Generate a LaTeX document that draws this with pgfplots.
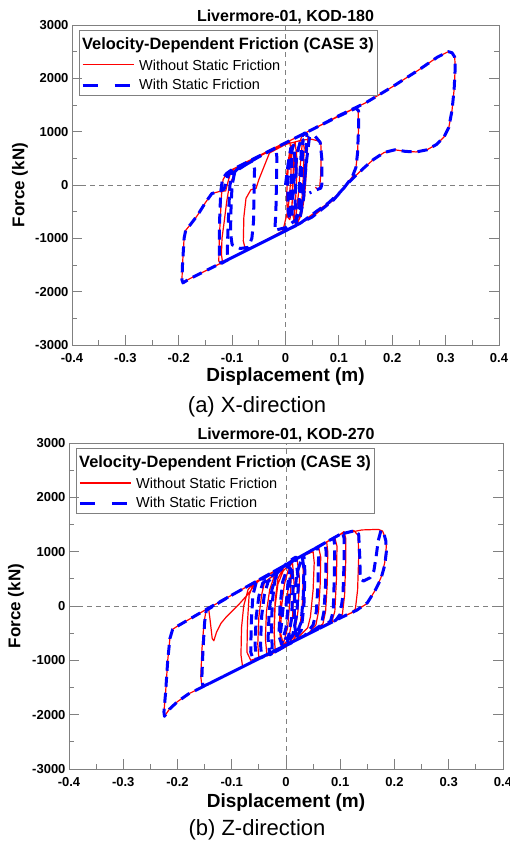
\documentclass[border=0pt]{standalone}
\usepackage{fontspec}
\setmainfont{Liberation Sans}
\usepackage{pgfplots}
\pgfplotsset{compat=1.18}
\definecolor{pRed}{RGB}{255,0,0}
\definecolor{pBlue}{RGB}{0,0,255}
\pgfplotsset{
  hyst/.style={
    scale only axis,
    xmin=-0.4, xmax=0.4, ymin=-3000, ymax=3000,
    xtick={-0.4,-0.3,-0.2,-0.1,0,0.1,0.2,0.3,0.4},
    ytick={-3000,-2000,-1000,0,1000,2000,3000},
    minor x tick num=1, minor y tick num=1,
    xtick pos=left, ytick pos=both, yticklabel pos=left,
    tick align=inside,
    major tick length=10pt, minor tick length=5pt,
    axis line style={draw=gray, line width=0.8pt},
    every tick/.style={draw=gray, line width=0.8pt},
    tick label style={font=\fontsize{13}{13}\selectfont\bfseries},
    xticklabel style={yshift=-5pt},
    /pgf/number format/assume math mode=true,
    /pgf/number format/1000 sep={},
    scaled ticks=false,
    xlabel style={font=\fontsize{19}{19}\selectfont\bfseries},
    ylabel style={font=\fontsize{17}{17}\selectfont\bfseries},
    xlabel={Displacement (m)},
    ylabel={Force (kN)},
    title style={font=\fontsize{16}{16}\selectfont\bfseries, at={(0.5,1)}, anchor=south, yshift=-9pt},
    legend style={at={(axis description cs:0.016,0.985)}, anchor=north west,
      draw=gray, line width=0.8pt, fill=none, row sep=3pt,
      font=\fontsize{14.5}{16}\selectfont, cells={anchor=west}, inner sep=2pt},
  },
  redline/.style={color=pRed, line width=1.2pt, line join=round},
  blueline/.style={color=pBlue, line width=3pt, line join=round, dash pattern=on 10pt off 6pt},
}
\newcommand{\legtitle}{\hspace{-57pt}\rule{0pt}{15.5pt}\fontsize{16.4}{17}\selectfont\bfseries Velocity-Dependent Friction (CASE 3)}
\newcommand{\legone}{\rule{0pt}{12.5pt}Without Static Friction}
\newcommand{\legtwo}{\rule[-3.5pt]{0pt}{3.5pt}With Static Friction}
\newcommand{\legimages}{%
  \addlegendimage{empty legend}
  \addlegendentry{\legtitle}
  \addlegendimage{legend image code/.code={\node[inner sep=0pt, outer sep=0pt, anchor=west] at (0pt,0pt) {\textcolor{pRed}{\rule[-0.7pt]{51pt}{1.4pt}}}; \path (54pt,0pt);}}
  \addlegendentry{\legone}
  \addlegendimage{legend image code/.code={\draw[draw=pBlue, color=pBlue, line width=3pt, dash pattern=on 15pt off 17pt] (0pt,0pt) -- (48pt,0pt); \path (54pt,0pt);}}
  \addlegendentry{\legtwo}}
\begin{document}
\begin{tikzpicture}
\path[use as bounding box] (0,0) rectangle (510pt,844pt);
% ---------------- (a) ----------------
\begin{axis}[hyst, at={(72pt,499pt)}, anchor=south west, width=427pt, height=320pt,
  title={Livermore-01, KOD-180},
  xlabel style={at={(axis description cs:0.5,-0.1)}, anchor=center},
  ylabel style={at={(axis description cs:-0.122,0.5)}, anchor=center}]
\draw[gray, line width=0.7pt, dash pattern=on 5pt off 4pt] (axis cs:0,-3000) -- (axis cs:0,3000);
\draw[gray, line width=0.7pt, dash pattern=on 5pt off 4pt] (axis cs:-0.4,0) -- (axis cs:0.4,0);
\legimages
\addplot[redline, forget plot] coordinates {
(0,0) (0.004,350) (0.008,650) (0.012,750) (0.015,500) (0.014,0) (0.012,-450) (0.008,-650) (0.004,-600) (0.002,-200) (0.005,300) (0.01,600) (0.018,800) (0.022,450) (0.02,-100) (0.017,-500) (0.015,-700) (0.02,-550) (0.025,-100) (0.028,400) (0.032,850) (0.035,700) (0.033,100) (0.03,-400) (0.025,-650) (0.018,-720) (0.012,-500) (0.013,0) (0.018,500) (0.025,750) (0.03,900) (0.038,950) (0.042,900) (0.04,400) (0.036,-200) (0.03,-550)
(0.02,-760) (0,-860) (-0.05,-1110) (-0.1,-1360) (-0.122,-1480)
(-0.125,-1420) (-0.124,-1000) (-0.122,-600) (-0.12,-200) (-0.117,100) (-0.11,220) (-0.1,290)
(-0.05,530) (0,790) (0.05,1040) (0.1,1290) (0.13,1440)
(0.136,1400) (0.137,1100) (0.135,600) (0.132,330) (0.125,150) (0.11,-50) (0.09,-280)
(0.05,-600) (0,-860) (-0.05,-1110) (-0.1,-1360) (-0.15,-1610) (-0.18,-1760) (-0.192,-1830)
(-0.194,-1780) (-0.193,-1500) (-0.19,-1000) (-0.187,-850) (-0.178,-740) (-0.165,-570) (-0.15,-330) (-0.138,-160) (-0.125,-125) (-0.112,-110) (-0.108,50) (-0.103,220) (-0.095,310)
(-0.05,540) (0,790) (0.05,1040) (0.1,1300) (0.15,1540) (0.2,1840) (0.25,2160) (0.285,2400) (0.305,2500) (0.312,2480)
(0.317,2400) (0.318,2200) (0.316,1800) (0.312,1400) (0.306,1080) (0.297,900) (0.283,760) (0.265,660) (0.245,620) (0.225,630) (0.205,660) (0.185,610) (0.165,480) (0.148,330) (0.133,190) (0.118,40) (0.1,-160) (0.08,-340) (0.06,-480)
(0.03,-700) (0,-860) (-0.05,-1110) (-0.1,-1360) (-0.118,-1450)
(-0.12,-1300) (-0.119,-1000) (-0.115,-700) (-0.11,-300) (-0.105,0) (-0.098,150) (-0.09,320) (-0.08,400)
(-0.04,600) (-0.01,750) (0.008,810)
(0.011,600) (0.01,100) (0.005,-450) (-0.005,-860)
(-0.04,-1050) (-0.075,-1220)
(-0.079,-1050) (-0.078,-600) (-0.074,-250) (-0.065,-90) (-0.055,-60) (-0.05,100) (-0.04,350) (-0.03,600)
(0,760) (0.03,840) (0.048,860) (0.06,830) (0.066,800)
(0.067,600) (0.066,200) (0.064,-60) (0.06,-80) (0.056,-40)
};
\addplot[blueline, forget plot] coordinates {
(0,0) (0.005,400) (0.01,700) (0.012,300) (0.01,-300) (0.008,-650) (0.005,-500) (0.004,0) (0.008,500) (0.015,750) (0.02,300) (0.018,-300) (0.02,-650) (0.025,-400) (0.027,200) (0.03,700) (0.033,850) (0.03,200) (0.026,-400) (0.02,-700) (0.012,-600) (0.015,0) (0.022,600) (0.03,900) (0.036,980) (0.04,950) (0.038,400) (0.034,-250) (0.028,-580)
(0.02,-760) (0,-860) (-0.05,-1110) (-0.1,-1360) (-0.12,-1470)
(-0.124,-1400) (-0.124,-1000) (-0.123,-500) (-0.121,-100) (-0.118,120) (-0.11,220) (-0.1,290)
(-0.05,530) (0,790) (0.05,1040) (0.1,1290) (0.132,1440)
(0.137,1390) (0.137,1100) (0.135,600) (0.132,330) (0.125,150) (0.11,-50) (0.09,-280)
(0.05,-600) (0,-860) (-0.05,-1110) (-0.1,-1360) (-0.15,-1610) (-0.18,-1760) (-0.192,-1835)
(-0.194,-1780) (-0.193,-1500) (-0.19,-1000) (-0.187,-850) (-0.178,-740) (-0.165,-570) (-0.15,-330) (-0.138,-160) (-0.125,-125) (-0.115,-80) (-0.11,100) (-0.105,230) (-0.095,310)
(-0.05,540) (0,790) (0.05,1040) (0.1,1300) (0.15,1540) (0.2,1840) (0.25,2160) (0.285,2400) (0.305,2500) (0.312,2480)
(0.317,2400) (0.318,2200) (0.316,1800) (0.312,1400) (0.306,1080) (0.297,900) (0.283,760) (0.265,660) (0.245,620) (0.225,630) (0.205,660) (0.185,610) (0.165,480) (0.148,330) (0.133,190) (0.118,40) (0.1,-160) (0.08,-340) (0.06,-480)
(0.03,-700) (0,-860) (-0.05,-1110) (-0.1,-1360) (-0.108,-1400)
(-0.109,-1250) (-0.108,-900) (-0.106,-400) (-0.104,0) (-0.1,200) (-0.09,300) (-0.075,380) (-0.062,450)
(-0.058,300) (-0.059,-200) (-0.06,-700) (-0.063,-1000) (-0.07,-1170) (-0.085,-1190) (-0.1,-1120)
(-0.103,-900) (-0.102,-400) (-0.1,0) (-0.095,250) (-0.06,470) (-0.03,640) (-0.018,700)
(-0.016,500) (-0.017,0) (-0.018,-500) (-0.02,-850)
(0,-800) (0.02,-650) (0.03,-400) (0.035,0) (0.04,500) (0.045,900) (0.055,920) (0.065,800)
(0.068,500) (0.068,0) (0.066,-60) (0.058,-90) (0.045,-150)
};
\end{axis}
\node[font=\fontsize{22}{22}\selectfont] at (257pt,437pt) {(a) X-direction};
% ---------------- (b) ----------------
\begin{axis}[hyst, at={(69pt,75pt)}, anchor=south west, width=434pt, height=326pt,
  title={Livermore-01, KOD-270},
  xlabel style={at={(axis description cs:0.5,-0.104)}, anchor=center},
  ylabel style={at={(axis description cs:-0.122,0.5)}, anchor=center}]
\draw[gray, line width=0.7pt, dash pattern=on 5pt off 4pt] (axis cs:0,-3000) -- (axis cs:0,3000);
\draw[gray, line width=0.7pt, dash pattern=on 5pt off 4pt] (axis cs:-0.4,0) -- (axis cs:0.4,0);
\legimages
\addplot[redline, forget plot] coordinates {
(0,0) (0.005,400) (0.01,650) (0.008,200) (0.003,-400) (-0.005,-700) (-0.01,-500) (-0.008,0) (-0.003,400) (0.005,700) (0.012,800) (0.015,400) (0.012,-200) (0.005,-600) (-0.01,-800) (-0.02,-850) (-0.022,-400) (-0.02,100) (-0.015,500) (-0.005,700) (0.01,850) (0.02,900) (0.025,500) (0.022,-100) (0.015,-550) (0,-750) (-0.02,-850) (-0.035,-920) (-0.038,-600) (-0.036,-100) (-0.03,300) (-0.02,600) (0,760) (0.02,880) (0.03,920)
(0.032,600) (0.03,0) (0.025,-450) (0.01,-680) (-0.02,-820) (-0.045,-950) (-0.05,-960)
(-0.052,-700) (-0.05,-200) (-0.045,200) (-0.04,430)
(0,760) (0.05,1040) (0.06,1090)
(0.064,900) (0.063,400) (0.06,-100) (0.055,-350) (0.04,-520)
(0,-720) (-0.04,-920) (-0.065,-1000)
(-0.072,-850) (-0.071,-300) (-0.068,200) (-0.06,410)
(0,760) (0.05,1040) (0.09,1260)
(0.094,1100) (0.093,500) (0.09,-100) (0.085,-270)
(0.05,-470) (0,-720) (-0.05,-970) (-0.1,-1220) (-0.14,-1420) (-0.155,-1480)
(-0.157,-1300) (-0.155,-800) (-0.151,-300) (-0.147,-60) (-0.143,-20) (-0.14,-250) (-0.136,-600) (-0.133,-640) (-0.128,-480) (-0.12,-320) (-0.11,-200) (-0.1,-100) (-0.085,50) (-0.07,220) (-0.055,420) (-0.04,540)
(0,760) (0.05,1040) (0.1,1320) (0.125,1390)
(0.133,1300) (0.134,900) (0.132,300) (0.128,-50) (0.12,-130)
(0.1,-220) (0.05,-470) (0,-720) (-0.05,-970) (-0.08,-1120)
(-0.083,-900) (-0.082,-400) (-0.078,0) (-0.07,300) (-0.06,420)
(0,760) (0.05,1040) (0.1,1320) (0.14,1400) (0.17,1410) (0.178,1380)
(0.183,1250) (0.185,1100) (0.182,800) (0.175,520) (0.165,300) (0.15,50) (0.13,-80) (0.1,-220)
(0.05,-470) (0,-720) (-0.05,-970) (-0.1,-1220) (-0.15,-1470) (-0.18,-1620) (-0.2,-1760) (-0.215,-1900) (-0.222,-2000) (-0.224,-2030)
(-0.225,-1950) (-0.222,-1600) (-0.218,-1000) (-0.214,-600) (-0.209,-430) (-0.2,-370)
(-0.15,-80) (-0.1,200) (-0.05,480) (0,760) (0.05,1040) (0.1,1320) (0.107,1370)
(0.11,1250) (0.11,800) (0.108,200) (0.104,-150) (0.095,-250)
(0.05,-470) (0,-720) (-0.03,-870) (-0.05,-950)
(-0.052,-700) (-0.05,-200) (-0.045,200) (-0.04,420)
(0,760) (0.04,980) (0.075,1180)
(0.077,1000) (0.076,400) (0.073,-100) (0.068,-330)
(0.04,-520) (0,-720) (-0.02,-800)
(-0.022,-500) (-0.02,0) (-0.015,400) (-0.005,650)
(0.02,880) (0.05,1000)
(0.052,800) (0.05,300) (0.045,-200) (0.04,-400)
(0.02,-600) (0,-700) (-0.01,-720) (-0.012,-300) (-0.01,100)
};
\addplot[blueline, forget plot] coordinates {
(0,0) (0.004,450) (0.008,700) (0.006,200) (0,-400) (-0.008,-700) (-0.013,-550) (-0.011,0) (-0.006,450) (0.003,720) (0.01,820) (0.013,350) (0.01,-250) (0.003,-650) (-0.012,-800) (-0.025,-870) (-0.027,-400) (-0.025,100) (-0.02,500) (-0.008,700) (0.008,840) (0.018,900) (0.023,450) (0.02,-150) (0.012,-550) (-0.005,-760) (-0.025,-870) (-0.03,-900) (-0.033,-600) (-0.031,-100) (-0.026,300) (-0.016,620) (0,760) (0.02,880) (0.033,930)
(0.035,600) (0.033,0) (0.028,-450) (0.01,-680) (-0.02,-820) (-0.045,-950) (-0.055,-980)
(-0.057,-700) (-0.055,-200) (-0.05,180) (-0.043,420)
(0,760) (0.05,1040) (0.058,1080)
(0.06,900) (0.059,400) (0.056,-100) (0.05,-350) (0.035,-540)
(0,-720) (-0.04,-920) (-0.06,-1000)
(-0.065,-850) (-0.064,-300) (-0.061,200) (-0.055,430)
(0,760) (0.05,1040) (0.088,1250)
(0.09,1100) (0.089,500) (0.087,-100) (0.082,-280)
(0.05,-470) (0,-720) (-0.05,-970) (-0.1,-1220) (-0.14,-1420) (-0.153,-1480)
(-0.155,-1300) (-0.153,-800) (-0.15,-300) (-0.147,-80)
(-0.1,200) (-0.05,480) (0,760) (0.05,1040) (0.1,1320) (0.128,1390)
(0.134,1320) (0.136,900) (0.137,500) (0.143,460) (0.155,520) (0.162,650) (0.166,900) (0.17,1200) (0.175,1390)
(0.18,1350) (0.184,1200) (0.185,1000) (0.182,750) (0.175,500) (0.165,300) (0.15,60) (0.13,-80) (0.1,-220)
(0.05,-470) (0,-720) (-0.05,-970) (-0.1,-1220) (-0.15,-1470) (-0.18,-1620) (-0.2,-1760) (-0.215,-1900) (-0.222,-2000) (-0.224,-2030)
(-0.225,-1950) (-0.222,-1600) (-0.218,-1000) (-0.214,-600) (-0.209,-430) (-0.2,-370)
(-0.15,-80) (-0.1,200) (-0.05,480) (0,760) (0.05,1040) (0.1,1320) (0.104,1360)
(0.107,1250) (0.107,800) (0.105,200) (0.1,-150) (0.092,-260)
(0.05,-470) (0,-720) (-0.03,-870) (-0.045,-940)
(-0.047,-700) (-0.045,-200) (-0.04,200) (-0.033,450)
(0,760) (0.04,980) (0.072,1160)
(0.074,1000) (0.073,400) (0.07,-100) (0.065,-350)
(0.04,-520) (0.02,-620) (0.015,-300) (0.016,200) (0.02,600) (0.03,900)
(0.033,700) (0.032,200) (0.028,-300) (0.02,-500) (0,-600) (-0.01,-500) (-0.005,0)
};
\end{axis}
\node[font=\fontsize{22}{22}\selectfont] at (257pt,14pt) {(b) Z-direction};
\end{tikzpicture}
\end{document}
